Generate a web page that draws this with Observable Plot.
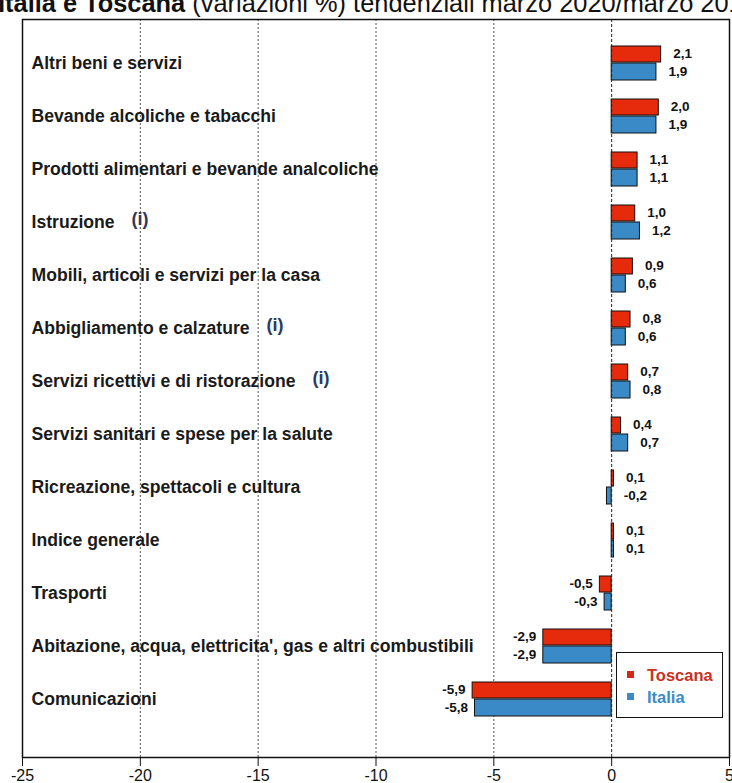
<!DOCTYPE html>
<html>
<head>
<meta charset="utf-8">
<script src="https://cdn.jsdelivr.net/npm/d3@7"></script>
<script src="https://cdn.jsdelivr.net/npm/@observablehq/plot@0.6"></script>
<style>
  html, body { margin: 0; padding: 0; background: #fff; }
  body { width: 732px; height: 783px; overflow: hidden; position: relative; font-family: "Liberation Sans", Arial, sans-serif; }
  #title { position: absolute; left: -2px; top: -9.5px; font-size: 25.4px; line-height: 25.4px; white-space: nowrap; color: #111; z-index: 2; }
  #title b { font-weight: bold; }
  #chart { position: absolute; left: 0; top: 0; }
  #legend { position: absolute; left: 616px; top: 652px; width: 105px; height: 64px; border: 1.5px solid #111; background: #fff; font-weight: bold; font-size: 16.5px; }
  .li { position: absolute; left: 10px; height: 20px; line-height: 20px; }
  .sw { display: inline-block; width: 7px; height: 7px; vertical-align: middle; margin-right: 13px; position: relative; top: -2px; }
</style>
</head>
<body>
<div id="title"><b>Italia e Toscana</b> (variazioni %) tendenziali marzo 2020/marzo 2019</div>
<div id="chart"></div>
<div id="legend">
  <div class="li" style="top:12px;color:#c8321e"><span class="sw" style="background:#d42a14"></span>Toscana</div>
  <div class="li" style="top:34px;color:#3a8cc4"><span class="sw" style="background:#3a8ac8"></span>Italia</div>
</div>
<script>
const categories = [
  "Altri beni e servizi",
  "Bevande alcoliche e tabacchi",
  "Prodotti alimentari e bevande analcoliche",
  "Istruzione",
  "Mobili, articoli e servizi per la casa",
  "Abbigliamento e calzature",
  "Servizi ricettivi e di ristorazione",
  "Servizi sanitari e spese per la salute",
  "Ricreazione, spettacoli e cultura",
  "Indice generale",
  "Trasporti",
  "Abitazione, acqua, elettricita', gas e altri combustibili",
  "Comunicazioni"
];
const toscana = [2.1, 2.0, 1.1, 1.0, 0.9, 0.8, 0.7, 0.4, 0.1, 0.1, -0.5, -2.9, -5.9];
const italia  = [1.9, 1.9, 1.1, 1.2, 0.6, 0.6, 0.8, 0.7, -0.2, 0.1, -0.3, -2.9, -5.8];
const notes = ["Istruzione", "Abbigliamento e calzature", "Servizi ricettivi e di ristorazione"];
const xTicks = [-25, -20, -15, -10, -5, 0, 5];
const gridTicks = [-20, -15, -10, -5];

const colorTos = "#e62a0c";
const colorIta = "#3a8ac8";
const font = "'Liberation Sans', Arial, sans-serif";
const labelSize = 17.6;

const dTos = categories.map((c, i) => ({cat: c, v: toscana[i]}));
const dIta = categories.map((c, i) => ({cat: c, v: italia[i]}));

const fmt = v => v.toFixed(1).replace(".", ",");

// measure label widths for the (i) markers
const ctx = document.createElement("canvas").getContext("2d");
ctx.font = `bold ${labelSize}px 'Liberation Sans', Arial`;

function valueText(data, dy) {
  return [
    Plot.text(data.filter(d => d.v >= -0.25), {x: d => Math.max(d.v, 0), y: "cat", text: d => fmt(d.v), dx: 12, dy, textAnchor: "start", fontWeight: "bold", fontSize: 13.5, fill: "#111"}),
    Plot.text(data.filter(d => d.v < -0.25), {x: "v", y: "cat", text: d => fmt(d.v), dx: -7, dy, textAnchor: "end", fontWeight: "bold", fontSize: 13.5, fill: "#111"})
  ];
}

const plot = Plot.plot({
  width: 732,
  height: 783,
  marginLeft: 22,
  marginRight: 3,
  marginTop: 19,
  marginBottom: 26,
  style: {fontFamily: font, background: "transparent"},
  x: {domain: [-25, 5], ticks: xTicks, tickFormat: d => String(d), label: null},
  y: {domain: categories, range: [31, 730], padding: 0, axis: null},
  marks: [
    Plot.ruleX(gridTicks, {stroke: "#555", strokeWidth: 1, strokeDasharray: "2,2"}),
    Plot.barX(dTos, {x: "v", y: "cat", fill: colorTos, stroke: "#111", strokeWidth: 1, insetTop: 10, insetBottom: 27}),
    Plot.barX(dIta, {x: "v", y: "cat", fill: colorIta, stroke: "#111", strokeWidth: 1, insetTop: 27, insetBottom: 9}),
    Plot.ruleX([0], {stroke: "#222", strokeWidth: 1, strokeDasharray: "3,2"}),
    ...valueText(dTos, -9),
    ...valueText(dIta, 9),
    Plot.text(categories, {y: d => d, text: d => d, frameAnchor: "left", dx: 9, textAnchor: "start", fontWeight: "bold", fontSize: labelSize, fill: "#1a1a1a"}),
    ...notes.map(n => Plot.text([n], {y: d => d, text: () => "(i)", frameAnchor: "left", dx: 9 + ctx.measureText(n).width + 17, dy: -3, textAnchor: "start", fontWeight: "bold", fontSize: 18, fill: "#2b3a5c"})),
    Plot.axisX({ticks: xTicks, tickSize: 9, tickPadding: 3, fontSize: 16, tickFormat: d => String(d), label: null, stroke: "#111", fill: "#111"}),
    Plot.frame({stroke: "#111", strokeWidth: 1.5})
  ]
});
document.getElementById("chart").appendChild(plot);
</script>
</body>
</html>
